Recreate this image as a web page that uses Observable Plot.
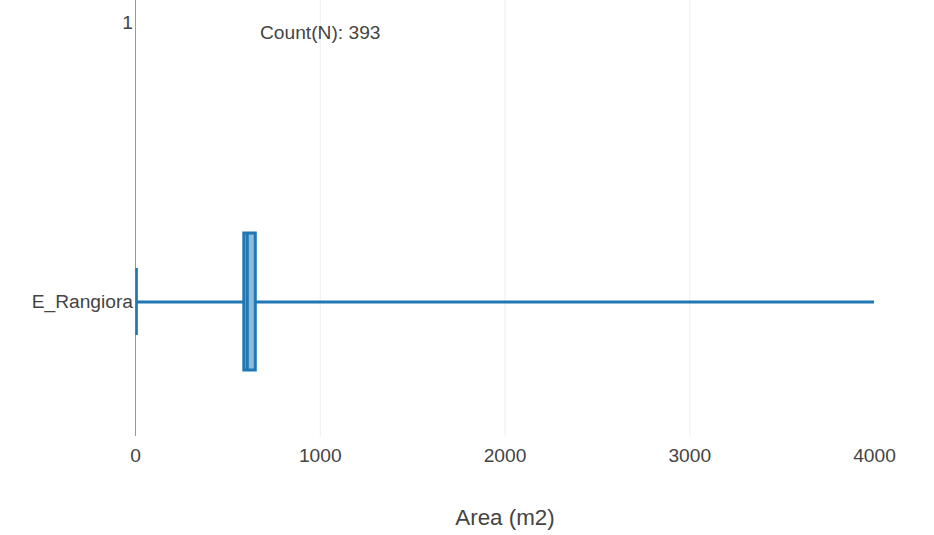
<!DOCTYPE html>
<html><head><meta charset="utf-8">
<script src="https://cdn.jsdelivr.net/npm/d3@7"></script>
<script src="https://cdn.jsdelivr.net/npm/@observablehq/plot@0.6"></script>
<style>body{margin:0;background:#fff}</style>
</head><body><div id="chart"></div>
<script>
const categories = ["1", "E_Rangiora"];
const boxNames = ["E_Rangiora"];
const lowWhisker = [6];
const q1 = [589];
const median = [605];
const q3 = [651];
const highWhisker = [4000];
const counts = [393];
const xTicks = [0, 1000, 2000, 3000, 4000];
const gridTicks = [1000, 2000, 3000];
const xLabel = "Area (m2)";

const boxes = boxNames.map((name, i) => ({
  name, lo: lowWhisker[i], q1: q1[i], med: median[i], q3: q3[i], hi: highWhisker[i], n: counts[i]
}));
const blue = "#1f77b4";

const chart = Plot.plot({
  width: 934, height: 535,
  marginLeft: 135, marginRight: 60, marginTop: 0, marginBottom: 99,
  style: {fontFamily: "'Liberation Sans', Arial, sans-serif", fontSize: "19.2px", color: "#444", background: "#fff", overflow: "visible"},
  x: {domain: [0, 4000]},
  y: {type: "band", domain: categories, range: [-46.5, 369.5], paddingInner: 0.509, paddingOuter: 0, align: 0.5},
  marks: [
    Plot.gridX(gridTicks, {stroke: "#eee", strokeOpacity: 1}),
    Plot.ruleX([0], {stroke: "#999", strokeWidth: 1}),
    Plot.axisX(xTicks, {tickSize: 0, tickPadding: 12, fontSize: 19.2, label: null, fill: "#444", tickFormat: d => String(d)}),
    Plot.axisY({tickSize: 0, tickPadding: 2.5, fontSize: 19.2, label: null, fill: "#444"}),
    Plot.ruleY(boxes, {x1: "lo", x2: "q1", y: "name", stroke: blue, strokeWidth: 3}),
    Plot.ruleY(boxes, {x1: "q3", x2: "hi", y: "name", stroke: blue, strokeWidth: 3}),
    Plot.tickX(boxes, {x: "lo", y: "name", insetTop: 35, insetBottom: 35, stroke: blue, strokeWidth: 2.5}),
    Plot.barX(boxes, {x1: "q1", x2: "q3", y: "name", fill: "#8fbbdb", stroke: blue, strokeWidth: 3}),
    Plot.tickX(boxes, {x: "med", y: "name", stroke: blue, strokeWidth: 3}),
    Plot.text(boxes, {x: 1000, y: () => "1", text: d => `Count(N): ${d.n}`, dy: 10, fontSize: 19.2, fill: "#444"}),
    Plot.text([xLabel], {frameAnchor: "bottom", dy: 88, fontSize: 22.4, fill: "#444"})
  ]
});
document.getElementById("chart").append(chart);
</script>
</body></html>
